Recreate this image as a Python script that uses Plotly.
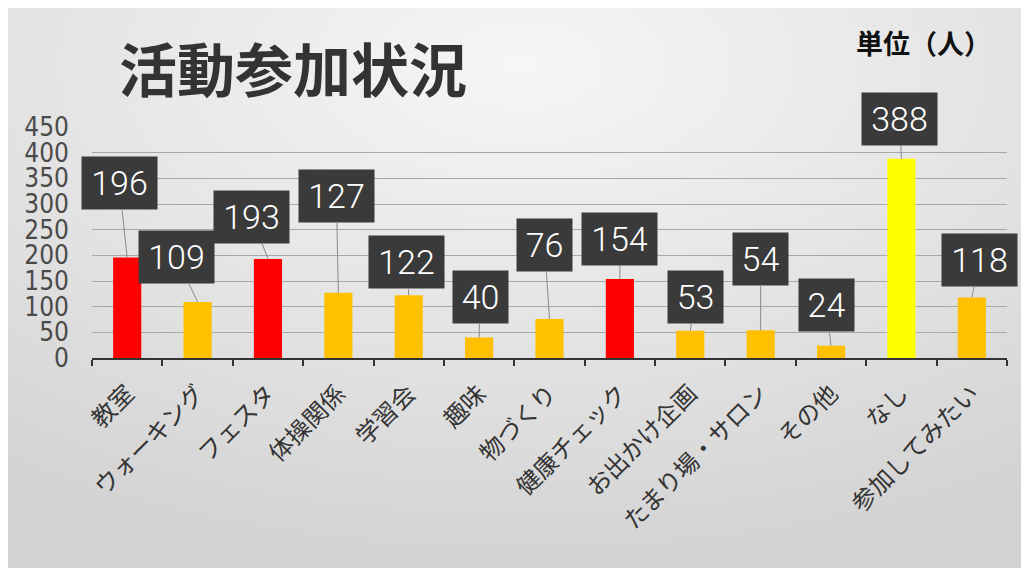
import base64
import plotly.graph_objects as go

categories = ["教室", "ウォーキング", "フェスタ", "体操関係", "学習会", "趣味", "物づくり",
              "健康チェック", "お出かけ企画", "たまり場・サロン", "その他", "なし", "参加してみたい"]
values = [196, 109, 193, 127, 122, 40, 76, 154, 53, 54, 24, 388, 118]
bar_colors = ["#ff0000", "#ffc000", "#ff0000", "#ffc000", "#ffc000", "#ffc000", "#ffc000",
              "#ff0000", "#ffc000", "#ffc000", "#ffc000", "#ffff00", "#ffc000"]
y_ticks = [0, 50, 100, 150, 200, 250, 300, 350, 400, 450]
grid_vals = [50, 100, 150, 200, 250, 300, 350, 400]

# label box offsets (pixels, layout only)
label_dx = [-8, -21, -16, -2, -2, 1, -5, 0, 5, 0, -5, -2, 8]
label_dy = [-74, -45, -42, -97, -33, -40, -74, -40, -34, -71, -41, -40, -37]

W, H = 1029, 568
OFF = 8  # page body margin

svg = f'''<svg xmlns="http://www.w3.org/2000/svg" width="{W}" height="{H}" viewBox="0 0 {W} {H}" preserveAspectRatio="none">
<defs><radialGradient id="g" cx="0.5" cy="0.1" r="0.9" fx="0.5" fy="0.1">
<stop offset="0" stop-color="#f6f6f6"/>
<stop offset="0.55" stop-color="#e3e3e3"/>
<stop offset="1" stop-color="#d2d2d2"/>
</radialGradient></defs>
<rect x="0" y="0" width="{W}" height="{H}" fill="url(#g)"/>
</svg>'''
src = "data:image/svg+xml;base64," + base64.b64encode(svg.encode("utf-8")).decode("ascii")

fig = go.Figure()
fig.add_trace(go.Bar(
    x=categories, y=values, marker=dict(color=bar_colors, line=dict(width=0)),
    width=0.4, hoverinfo="skip",
))

annotations = []
for c, v, dx, dy in zip(categories, values, label_dx, label_dy):
    txt = str(v)
    annotations.append(dict(
        x=c, y=v, xref="x", yref="y", text=txt,
        showarrow=True, arrowhead=0, arrowwidth=1, arrowcolor="#8a8a8a",
        ax=dx, ay=dy, standoff=0,
        bgcolor="#3a3a3a", borderpad=6,
        width=43 if len(txt) == 2 else 63, height=40,
        font=dict(family="Roboto, Liberation Sans, sans-serif", size=34, color="#ffffff", weight=300),
    ))

annotations.append(dict(
    x=(293 - OFF) / W, y=1 - (67 - OFF) / H, xref="paper", yref="paper", text="活動参加状況",
    showarrow=False, xanchor="center", yanchor="middle",
    font=dict(family="Noto Sans CJK JP", size=58, color="#333333", weight="bold"),
))
annotations.append(dict(
    x=(923 - OFF) / W, y=1 - (42 - OFF) / H, xref="paper", yref="paper", text="単位（人）",
    showarrow=False, xanchor="center", yanchor="middle",
    font=dict(family="Noto Sans CJK JP", size=27, color="#111111", weight="bold"),
))

fig.update_layout(
    width=W, height=H,
    margin=dict(l=0, r=0, t=0, b=0, pad=0, autoexpand=False),
    paper_bgcolor="#ffffff", plot_bgcolor="rgba(0,0,0,0)",
    showlegend=False,
    bargap=0.6,
    annotations=annotations,
    images=[dict(source=src, xref="paper", yref="paper", x=0, y=1,
                 sizex=1, sizey=1, sizing="stretch", layer="below",
                 xanchor="left", yanchor="top")],
    xaxis=dict(
        domain=[(92 - OFF) / W, (1007 - OFF) / W], type="category", range=[-0.5, len(categories) - 0.5],
        automargin=False,
        showline=True, linecolor="#333333", linewidth=2,
        ticks="outside", ticklen=6, tickwidth=2, tickcolor="#333333", tickson="boundaries",
        tickangle=-45, showgrid=False, ticklabelstandoff=10,
        tickfont=dict(family="Noto Sans CJK JP", size=24, color="#333333"),
    ),
    yaxis=dict(
        domain=[(H - (358 - OFF)) / H, (H - (127 - OFF)) / H], range=[0, 450],
        automargin=False,
        tickvals=y_ticks, ticktext=[str(t) for t in y_ticks],
        showgrid=False,
        minor=dict(tickvals=grid_vals, showgrid=True, gridcolor="#a8a8a8", gridwidth=1, ticks=""),
        showline=False, zeroline=False, ticks="", ticklabelstandoff=22,
        tickfont=dict(family="Liberation Sans Narrow, DejaVu Sans Condensed, Liberation Sans, sans-serif",
                      size=26, color="#4a4a4a"),
    ),
)

fig.write_html("out.html")
